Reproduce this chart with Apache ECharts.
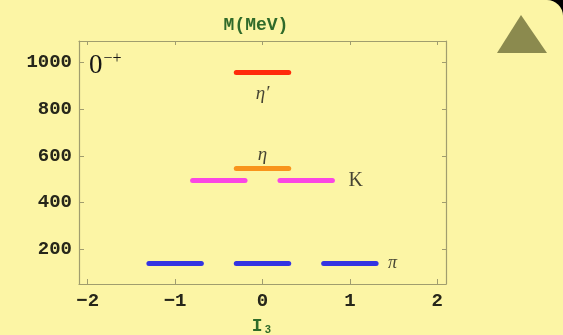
<!DOCTYPE html>
<html>
<head>
<meta charset="utf-8">
<script src="https://cdn.jsdelivr.net/npm/echarts@6/dist/echarts.min.js"></script>
<style>
  html, body { margin: 0; padding: 0; background: #fcf5a5; }
  #chart { width: 563px; height: 335px; }
</style>
</head>
<body>
<div id="chart"></div>
<script>
// Pseudoscalar meson nonet (J^PC = 0-+): mass vs. isospin projection I3
const mesonNames = ['π', 'K', 'η', 'η′'];
const mesonMass = [140, 494, 547, 957];              // MeV
const isospinCenters = [[-1, 0, 1], [-0.5, 0.5], [0], [0]];
const mesonColors = ['#3434e2', '#fa46e4', '#f8941c', '#ff2a0a'];
const xTickValues = [-2, -1, 0, 1, 2];
const yTickValues = [200, 400, 600, 800, 1000];

const halfWidth = 0.3;   // half-length of each level bar in I3 units

const frameColor = '#a09d6e';
const tickFont = { fontFamily: 'Liberation Mono', fontWeight: 'bold', fontSize: 19, color: '#26261a' };

// one "lines" series per meson, one segment per isospin member
const levelSeries = mesonNames.map((name, i) => ({
  type: 'lines',
  coordinateSystem: 'cartesian2d',
  name: name,
  silent: true,
  lineStyle: { color: mesonColors[i], width: 5, cap: 'round', opacity: 1 },
  data: isospinCenters[i].map(c => ({
    coords: [[c - halfWidth, mesonMass[i]], [c + halfWidth, mesonMass[i]]]
  })),
  z: 3
}));

// name labels attached to each level
const labelPlacement = [
  { pos: 'right', dist: 12, style: 'italic', size: 18 },   // π, after last bar
  { pos: 'right', dist: 16, style: 'normal', size: 20 },   // K, after last bar
  { pos: 'top', dist: 4, style: 'italic', size: 19 },      // η, above bar
  { pos: 'bottom', dist: 12, style: 'italic', size: 19 }   // η′, below bar
];
const labelSeries = {
  type: 'scatter',
  symbolSize: 0,
  silent: true,
  z: 4,
  data: mesonNames.map((name, i) => {
    const c = isospinCenters[i];
    const p = labelPlacement[i];
    const x = p.pos === 'right' ? c[c.length - 1] + halfWidth : c[0];
    return {
      value: [x, mesonMass[i]],
      label: {
        show: true,
        formatter: name,
        position: p.pos,
        distance: p.dist,
        fontFamily: 'Liberation Serif',
        fontStyle: p.style,
        fontSize: p.size,
        color: '#161616'
      }
    };
  })
};

const lineOf = { show: true, onZero: false, lineStyle: { color: frameColor, width: 1.2 } };

const option = {
  animation: false,
  backgroundColor: '#fcf5a5',
  grid: { left: 79, right: 117, top: 41, bottom: 51, outerBoundsMode: 'none', containLabel: false },
  xAxis: [
    {
      type: 'value', position: 'bottom',
      min: -2.1, max: 2.1,
      name: 'I\u2083', nameLocation: 'middle', nameGap: 33,
      nameTextStyle: { fontFamily: 'Liberation Mono', fontWeight: 'bold', fontSize: 18, color: '#2f6a2a' },
      axisLine: lineOf,
      axisTick: { show: true, inside: true, length: 5, customValues: xTickValues, lineStyle: { color: frameColor } },
      axisLabel: Object.assign({ customValues: xTickValues, margin: 8,
        formatter: v => (v < 0 ? '\u2212' + (-v) : String(v)) }, tickFont),
      splitLine: { show: false }
    },
    {
      type: 'value', position: 'top',
      min: -2.1, max: 2.1,
      axisLine: lineOf,
      axisTick: { show: true, inside: true, length: 4, customValues: xTickValues, lineStyle: { color: frameColor } },
      axisLabel: { show: false },
      splitLine: { show: false }
    }
  ],
  yAxis: [
    {
      type: 'value', position: 'left',
      min: 53, max: 1090,
      axisLine: lineOf,
      axisTick: { show: true, inside: true, length: 5, customValues: yTickValues, lineStyle: { color: frameColor } },
      axisLabel: Object.assign({ customValues: yTickValues, margin: 7, formatter: v => String(v) }, tickFont),
      splitLine: { show: false }
    },
    {
      type: 'value', position: 'right',
      min: 53, max: 1090,
      axisLine: lineOf,
      axisTick: { show: true, inside: true, length: 4, customValues: yTickValues, lineStyle: { color: frameColor } },
      axisLabel: { show: false },
      splitLine: { show: false }
    }
  ],
  graphic: [
    // rounded top-right corner of the panel
    { type: 'rect', left: 533, top: 0, shape: { width: 30, height: 30 }, style: { fill: '#000' }, z: -10 },
    { type: 'rect', left: 0, top: 0, shape: { width: 563, height: 335, r: [0, 16, 0, 0] }, style: { fill: '#fcf5a5' }, z: -9 },
    // axis title on top
    { type: 'text', x: 256, y: 25, style: { text: 'M(MeV)', textAlign: 'center', textVerticalAlign: 'middle',
      font: 'bold 18px "Liberation Mono"', fill: '#2f6a2a' }, z: 5 },
    // J^PC tag inside the frame
    { type: 'text', x: 89, y: 65, style: {
        text: '{b|0}{s|\u2212+}', textVerticalAlign: 'middle',
        rich: {
          b: { fontFamily: 'Liberation Serif', fontSize: 27, fill: '#161616', verticalAlign: 'bottom' },
          s: { fontFamily: 'Liberation Serif', fontSize: 16, fill: '#161616', padding: [0, 0, 12, 1] }
        } }, z: 5 },
    // navigation triangle
    { type: 'polygon', shape: { points: [[521, 15], [497, 53], [547, 53]] }, style: { fill: '#8b8a4e' }, z: 5 }
  ],
  series: levelSeries.concat([labelSeries])
};

const chart = echarts.init(document.getElementById('chart'), null, { renderer: 'canvas' });
chart.setOption(option);
</script>
</body>
</html>
